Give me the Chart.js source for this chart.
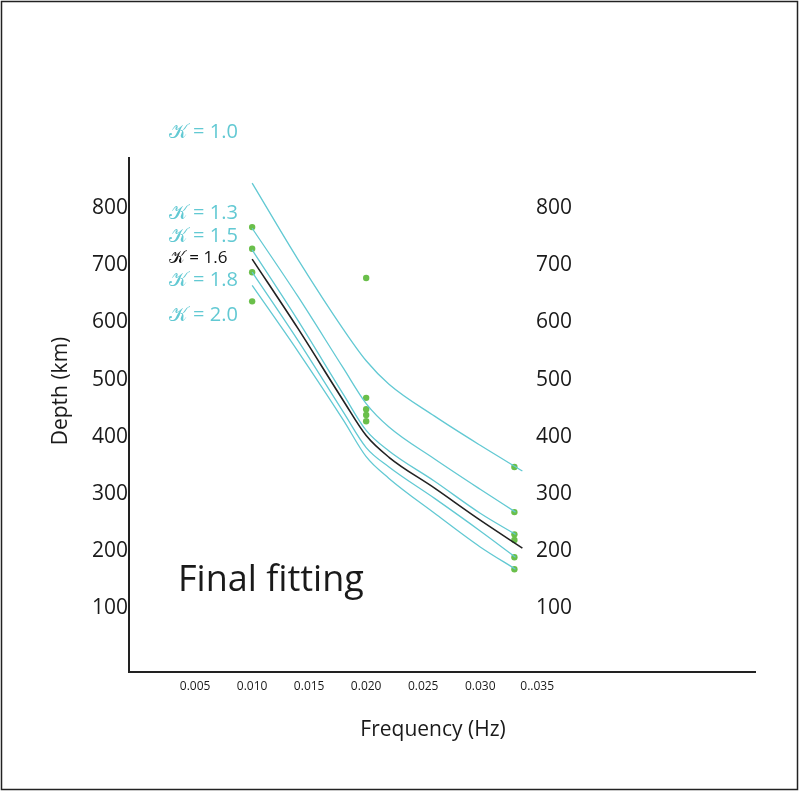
<!DOCTYPE html>
<html>
<head>
<meta charset="utf-8">
<script src="https://cdn.jsdelivr.net/npm/chart.js@4.4.1/dist/chart.umd.min.js"></script>
<style>
  html,body{margin:0;padding:0;background:#fff;}
  #wrap{width:800px;height:792px;position:relative;}
</style>
</head>
<body>
<div id="wrap"><canvas id="chart" width="800" height="792"></canvas></div>
<script>
// ---- data ----
const X_TICKS=[0.005,0.010,0.015,0.020,0.025,0.030,0.035];
const X_TICK_LABELS=["0.005","0.010","0.015","0.020","0.025","0.030","0..035"];
const Y_TICKS=[100,200,300,400,500,600,700,800];

const KAPPA=["1.0","1.3","1.5","1.6","1.8","2.0"];
// model curves: depth read at these frequencies, last point at CURVE_END_FREQ
const CURVE_FREQ=[0.010,0.014,0.018,0.020,0.022,0.026,0.030];
const CURVE_END_FREQ=[0.0337,0.0331,0.0331,0.0337,0.0331,0.0331];
const K10=[844,711,588,533,492,436,385,340];
const K13=[765,646,520,458,417,361,308,268];
const K15=[727,604,474,411,375,322,266,229];
const K16=[711,590,463,402,364,310,254,205];
const K18=[688,569,443,381,347,292,235,189];
const K20=[665,550,429,365,327,266,207,168];
const CURVES=[K10,K13,K15,K16,K18,K20];

// observed depths
const OBS_FREQ=[0.010,0.020,0.033];
const OBS_010=[918,767,729,688,637];
const OBS_020=[678,468,448,438,427];
const OBS_033=[347,268,229,219,189,168];
const OBS=[OBS_010,OBS_020,OBS_033];

// where the kappa labels sit (depth units) and the right-hand labels
const LABEL_DEPTH=[933,792,751,713,674,613];
const LABEL_FREQ=0.0027;
const RIGHT_LABEL_FREQ=0.0349;

const CYAN="#62c9d3", GREEN="#6abf4a", INK="#1a1a1a";
const FONT='"Open Sans","Noto Sans",sans-serif';

function pts(xs,ys){return ys.map((y,i)=>({x:xs[i],y:y}));}

const datasets=CURVES.map((ys,i)=>({
  type:"line",
  label:"K = "+KAPPA[i],
  data:pts(CURVE_FREQ.concat([CURVE_END_FREQ[i]]),ys),
  borderColor:KAPPA[i]==="1.6"?"#222":CYAN,
  borderWidth:KAPPA[i]==="1.6"?1.6:1.3,
  pointRadius:0,
  fill:false,
  cubicInterpolationMode:"monotone"
}));
const obsPts=[];
OBS.forEach((arr,i)=>arr.forEach(v=>obsPts.push({x:OBS_FREQ[i],y:v})));
datasets.push({
  type:"scatter",label:"observed",data:obsPts,
  backgroundColor:GREEN,borderColor:GREEN,borderWidth:0,pointRadius:3.2
});

const annot={
  id:"annot",
  afterDraw(c){
    const ctx=c.ctx, xs=c.scales.x, ys=c.scales.y;
    ctx.save();
    // frame
    ctx.strokeStyle="#222"; ctx.lineWidth=1.5;
    ctx.strokeRect(1.5,1.5,796,788);
    ctx.fillStyle=INK;
    // axis titles
    ctx.font="21px "+FONT; ctx.textAlign="center"; ctx.textBaseline="middle";
    ctx.fillText("Frequency (Hz)",433,730);
    ctx.save(); ctx.translate(61,391); ctx.rotate(-Math.PI/2);
    ctx.fillText("Depth (km)",0,0); ctx.restore();
    // right side depth labels
    ctx.textAlign="left";
    Y_TICKS.forEach(v=>ctx.fillText(String(v),xs.getPixelForValue(RIGHT_LABEL_FREQ),ys.getPixelForValue(v)));
    // big caption
    ctx.font="36px "+FONT; ctx.textBaseline="alphabetic";
    ctx.fillText("Final fitting",178,591);
    // kappa labels
    ctx.textBaseline="middle";
    KAPPA.forEach((k,i)=>{
      const black=k==="1.6";
      ctx.font=(black?"17px ":"20px ")+FONT;
      ctx.fillStyle=black?"#111":CYAN;
      ctx.fillText("\u{1D4A6} = "+k,xs.getPixelForValue(LABEL_FREQ),ys.getPixelForValue(LABEL_DEPTH[i]));
    });
    ctx.restore();
  }
};

new Chart(document.getElementById("chart"),{
  data:{datasets:datasets},
  options:{
    responsive:false,animation:false,
    layout:{padding:{left:0,right:45,top:158,bottom:0}},
    plugins:{legend:{display:false},tooltip:{enabled:false}},
    scales:{
      x:{type:"linear",min:-0.0008,max:0.0541,
        grid:{display:false,drawTicks:false},
        border:{display:true,color:"#222",width:2},
        afterBuildTicks:s=>{s.ticks=X_TICKS.map(v=>({value:v}));},
        afterFit:s=>{s.height=120;},
        ticks:{padding:7,color:INK,font:{family:FONT,size:12},maxRotation:0,
          callback:(v,i)=>X_TICK_LABELS[i]}
      },
      y:{type:"linear",min:-12,max:888,
        grid:{display:false,drawTicks:false},
        border:{display:true,color:"#222",width:2},
        afterBuildTicks:s=>{s.ticks=Y_TICKS.map(v=>({value:v}));},
        afterFit:s=>{s.width=129;},
        ticks:{padding:1,color:INK,font:{family:FONT,size:21}}
      }
    }
  },
  plugins:[annot]
});
</script>
</body>
</html>
